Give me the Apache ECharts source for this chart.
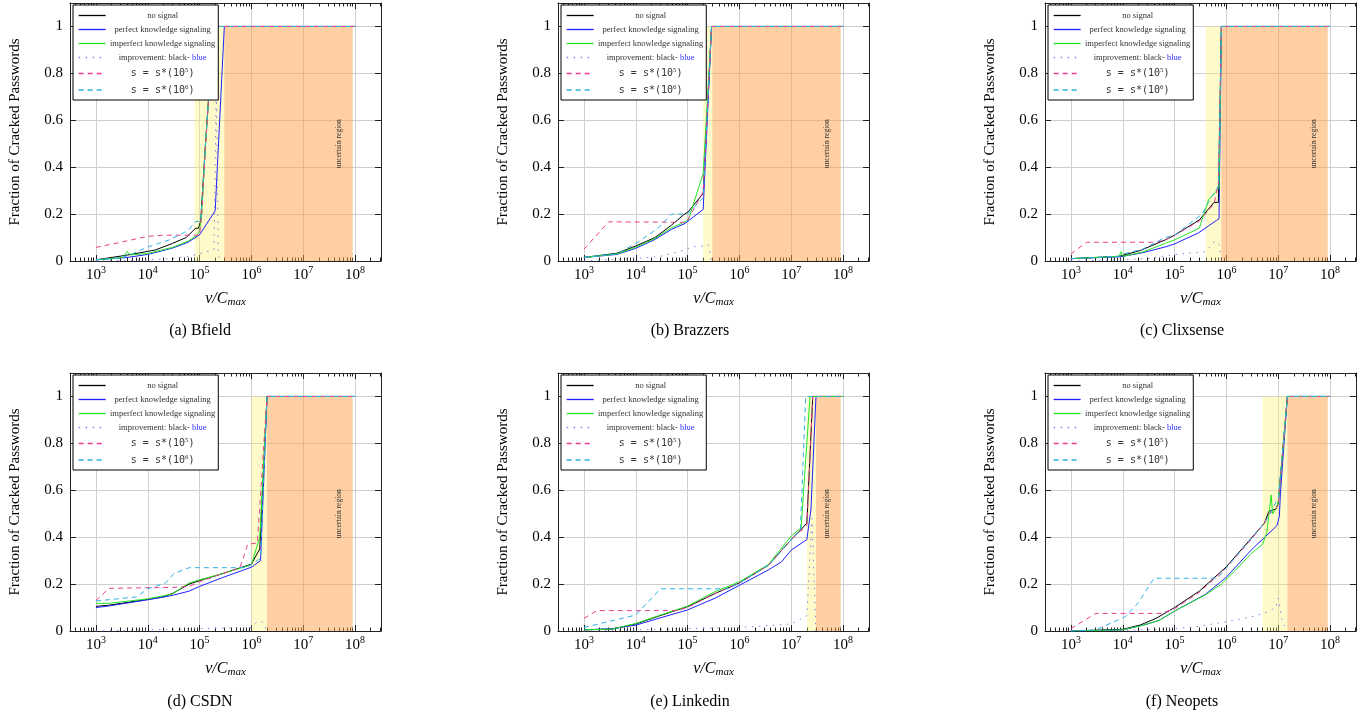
<!DOCTYPE html>
<html>
<head>
<meta charset="utf-8">
<script src="https://cdn.jsdelivr.net/npm/echarts@6/dist/echarts.min.js"></script>
<style>
html,body{margin:0;padding:0;background:#fff;}
#chart{width:1369px;height:717px;}
</style>
</head>
<body>
<div id="chart"></div>
<script>
// series names (legend order)
var seriesNames = ['no signal', 'perfect knowledge signaling', 'imperfect knowledge signaling',
  'improvement: black- blue', 's = s*(10^5)', 's = s*(10^6)'];
var captions = ['(a) Bfield', '(b) Brazzers', '(c) Clixsense', '(d) CSDN', '(e) Linkedin', '(f) Neopets'];
var xTickValues = [1e3, 1e4, 1e5, 1e6, 1e7, 1e8];
var yTickValues = [0, 0.2, 0.4, 0.6, 0.8, 1];

// (a) Bfield
var bfieldNo = [[1e3,0.005],[4e3,0.025],[1.4e4,0.047],[3e4,0.075],[5.5e4,0.1],[8.3e4,0.139],[9.5e4,0.14],[1.05e5,0.17],[1.3e5,0.5],[1.5e5,0.7],[1.9e5,1],[1e8,1]];
var bfieldPerfect = [[1e3,0.005],[4e3,0.015],[1e4,0.028],[3e4,0.055],[6e4,0.08],[1e5,0.112],[2e5,0.214],[3e5,1],[1e8,1]];
var bfieldImperfect = [[1e3,0.005],[3.3e3,0.015],[4e3,0.04],[4.7e3,0.026],[1e4,0.032],[3e4,0.058],[6e4,0.085],[9e4,0.11],[1e5,0.13],[1.1e5,0.2],[1.3e5,0.5],[1.5e5,0.7],[1.9e5,1],[1e8,1]];
var bfieldImprove = [[1e3,0],[1e4,0.005],[3e4,0.01],[6e4,0.02],[1e5,0.03],[1.9e5,0.05],[2.1e5,0.75],[2.3e5,0.02],[3e5,0]];
var bfieldS5 = [[1e3,0.058],[3e3,0.08],[1e4,0.105],[2e4,0.11],[1e5,0.11],[1.1e5,0.2],[1.3e5,0.48],[1.5e5,0.7],[1.9e5,1],[1e8,1]];
var bfieldS6 = [[1e3,0.005],[3e3,0.012],[5e3,0.03],[1e4,0.06],[2.6e4,0.09],[6e4,0.13],[8.2e4,0.167],[1.05e5,0.17],[1.3e5,0.5],[1.5e5,0.7],[1.9e5,1],[1e8,1]];
var bfieldRegions = [8e4, 3e5, 9e7];

// (b) Brazzers
var brazzersNo = [[1e3,0.015],[4.3e3,0.033],[1e4,0.064],[2.35e4,0.1],[4.9e4,0.153],[8.3e4,0.196],[1.03e5,0.21],[2e5,0.288],[2.9e5,1],[1e8,1]];
var brazzersPerfect = [[1e3,0.015],[4.3e3,0.028],[1e4,0.054],[2.35e4,0.092],[4.9e4,0.135],[8.9e4,0.16],[2e5,0.22],[2.9e5,1],[1e8,1]];
var brazzersImperfect = [[1e3,0.015],[4.3e3,0.03],[1e4,0.059],[2.35e4,0.096],[4.9e4,0.142],[7.6e4,0.16],[1.03e5,0.174],[2e5,0.373],[2.9e5,1],[1e8,1]];
var brazzersImprove = [[1e3,0],[3e3,0.005],[1e4,0.01],[3e4,0.02],[8.9e4,0.047],[1.2e5,0.06],[2e5,0.064],[2.5e5,0.07],[2.9e5,0]];
var brazzersS5 = [[1e3,0.05],[3e3,0.167],[9.5e4,0.165],[2e5,0.295],[2.9e5,1],[1e8,1]];
var brazzersS6 = [[1e3,0.015],[4.3e3,0.03],[1.1e4,0.08],[2.7e4,0.14],[4.9e4,0.2],[1e5,0.2],[2e5,0.27],[2.9e5,1],[1e8,1]];
var brazzersRegions = [2e5, 3e5, 9e7];

// (c) Clixsense
var clixsenseNo = [[1e3,0.01],[8.5e3,0.02],[2.2e4,0.045],[6.6e4,0.09],[1e5,0.11],[3e5,0.175],[5.8e5,0.25],[7e5,0.25],[8e5,1],[1e8,1]];
var clixsensePerfect = [[1e3,0.01],[9e3,0.018],[2.4e4,0.035],[6.6e4,0.06],[1e5,0.073],[2.9e5,0.12],[6.5e5,0.174],[7.2e5,0.18],[8e5,1],[1e8,1]];
var clixsenseImperfect = [[1e3,0.01],[8.5e3,0.02],[9.3e3,0.04],[1e4,0.02],[2.4e4,0.038],[6.6e4,0.075],[1e5,0.09],[3e5,0.14],[4.5e5,0.26],[6.5e5,0.3],[7.2e5,0.31],[8e5,1],[1e8,1]];
var clixsenseImprove = [[1e3,0],[1e4,0.005],[3e4,0.01],[1e5,0.028],[4e5,0.04],[6e5,0.085],[7.2e5,0.07],[8e5,0]];
var clixsenseS5 = [[1e3,0.03],[2e3,0.08],[4.5e4,0.08],[6.6e4,0.09],[1e5,0.11],[3e5,0.17],[5.8e5,0.245],[7e5,0.33],[8e5,1],[1e8,1]];
var clixsenseS6 = [[1e3,0.01],[8.5e3,0.02],[1e4,0.03],[2.4e4,0.05],[6.6e4,0.1],[1e5,0.11],[3.4e5,0.2],[4.5e5,0.25],[7e5,0.32],[8e5,1],[1e8,1]];
var clixsenseRegions = [4e5, 8e5, 9e7];

// (d) CSDN
var csdnNo = [[1e3,0.105],[1.8e3,0.11],[1e4,0.135],[2e4,0.145],[3e4,0.16],[6.3e4,0.2],[1e5,0.215],[2.8e5,0.245],[1e6,0.285],[1.45e6,0.35],[2e6,1],[1e8,1]];
var csdnPerfect = [[1e3,0.1],[1.8e3,0.107],[1e4,0.133],[3e4,0.152],[6.3e4,0.17],[1e5,0.19],[2.8e5,0.228],[1e6,0.272],[1.5e6,0.3],[2e6,1],[1e8,1]];
var csdnImperfect = [[1e3,0.118],[1.8e3,0.118],[1e4,0.137],[3e4,0.158],[6.3e4,0.205],[1e5,0.218],[2.8e5,0.245],[1e6,0.282],[1.45e6,0.4],[2e6,1],[1e8,1]];
var csdnImprove = [[1e3,0],[1e5,0.01],[1e6,0.015],[1.3e6,0.04],[1.6e6,0.04],[2e6,0]];
var csdnS5 = [[1e3,0.13],[1.8e3,0.182],[3e4,0.186],[6.3e4,0.19],[1e5,0.21],[2.8e5,0.245],[6e5,0.27],[8.5e5,0.37],[1.3e6,0.375],[2e6,1],[1e8,1]];
var csdnS6 = [[1e3,0.128],[6e3,0.145],[1e4,0.18],[2.2e4,0.205],[3.2e4,0.245],[6.3e4,0.27],[8e5,0.27],[1.5e6,0.31],[2e6,1],[1e8,1]];
var csdnRegions = [1e6, 2e6, 9e7];

// (e) Linkedin
var linkedinNo = [[1e3,0.005],[3.5e3,0.008],[1e4,0.03],[3.2e4,0.068],[1e5,0.104],[3.4e5,0.16],[1e6,0.205],[3.6e6,0.28],[1e7,0.39],[1.5e7,0.43],[2e7,0.46],[2.6e7,1],[1e8,1]];
var linkedinPerfect = [[1e3,0.005],[3.5e3,0.01],[1e4,0.025],[3.2e4,0.058],[1e5,0.09],[3.4e5,0.14],[1e6,0.195],[3.6e6,0.26],[6.5e6,0.295],[1e7,0.345],[2e7,0.39],[2.4e7,0.52],[3e7,1],[1e8,1]];
var linkedinImperfect = [[1e3,0.005],[3.5e3,0.008],[1e4,0.032],[3.2e4,0.07],[1e5,0.106],[3.4e5,0.168],[1e6,0.21],[3.6e6,0.283],[1e7,0.405],[1.55e7,0.44],[2.3e7,1],[1e8,1]];
var linkedinImprove = [[1e3,0],[1e4,0.005],[1e5,0.01],[1e6,0.015],[1e7,0.03],[2e7,0.065],[2.5e7,0.48],[3e7,0]];
var linkedinS5 = [[1e3,0.054],[1.8e3,0.087],[6.2e4,0.087],[1e5,0.1],[3.4e5,0.16],[1e6,0.205],[3.6e6,0.28],[1e7,0.39],[2e7,0.45],[2.6e7,1],[1e8,1]];
var linkedinS6 = [[1e3,0.015],[1e4,0.068],[3e4,0.18],[6e5,0.18],[1e6,0.205],[3.6e6,0.28],[1e7,0.39],[1.5e7,0.43],[1.9e7,1],[1e8,1]];
var linkedinRegions = [2e7, 3e7, 9e7];

// (f) Neopets
var neopetsNo = [[1e3,0],[1e4,0.007],[2.2e4,0.026],[4.4e4,0.054],[1e5,0.1],[3e5,0.17],[1e6,0.274],[3e6,0.395],[5.4e6,0.46],[6.6e6,0.51],[9e6,0.52],[1e7,0.545],[1.5e7,1],[1e8,1]];
var neopetsPerfect = [[1e3,0],[1e4,0.005],[2.5e4,0.025],[5e4,0.045],[1e5,0.085],[4e5,0.157],[1e6,0.23],[3e6,0.345],[5.5e6,0.4],[9.5e6,0.45],[1.05e7,0.49],[1.1e7,0.585],[1.5e7,1],[1e8,1]];
var neopetsImperfect = [[1e3,0],[1e4,0.005],[2.5e4,0.025],[5e4,0.045],[1e5,0.085],[4e5,0.155],[8e5,0.2],[1.5e6,0.26],[3e6,0.33],[5e6,0.37],[6e6,0.42],[7.3e6,0.58],[7.8e6,0.5],[9e6,0.52],[1e7,0.55],[1.5e7,1],[1e8,1]];
var neopetsImprove = [[1e3,0],[1e4,0.002],[1e5,0.01],[3e5,0.02],[1e6,0.04],[3e6,0.06],[6e6,0.08],[9e6,0.1],[1e7,0.14],[1.2e7,0.04],[1.5e7,0]];
var neopetsS5 = [[1e3,0.01],[3e3,0.075],[5.5e4,0.075],[1e5,0.095],[3e5,0.165],[1e6,0.27],[3e6,0.39],[5.4e6,0.46],[6.6e6,0.5],[9e6,0.52],[1e7,0.54],[1.5e7,1],[1e8,1]];
var neopetsS6 = [[1e3,0],[3e3,0.005],[1.1e4,0.06],[2e4,0.12],[4e4,0.225],[6.7e5,0.225],[1e6,0.27],[3e6,0.395],[5.4e6,0.46],[7e6,0.5],[9e6,0.55],[1e7,0.56],[1.5e7,1],[1e8,1]];
var neopetsRegions = [5e6, 1.5e7, 9e7];

var panelData = [
  [bfieldNo, bfieldPerfect, bfieldImperfect, bfieldImprove, bfieldS5, bfieldS6],
  [brazzersNo, brazzersPerfect, brazzersImperfect, brazzersImprove, brazzersS5, brazzersS6],
  [clixsenseNo, clixsensePerfect, clixsenseImperfect, clixsenseImprove, clixsenseS5, clixsenseS6],
  [csdnNo, csdnPerfect, csdnImperfect, csdnImprove, csdnS5, csdnS6],
  [linkedinNo, linkedinPerfect, linkedinImperfect, linkedinImprove, linkedinS5, linkedinS6],
  [neopetsNo, neopetsPerfect, neopetsImperfect, neopetsImprove, neopetsS5, neopetsS6]
];
var panelRegions = [bfieldRegions, brazzersRegions, clixsenseRegions, csdnRegions, linkedinRegions, neopetsRegions];
var uncertainAt = [5e7, 0.5];

// styles / layout
var colors = ['#000000', '#2020ff', '#22e622', '#8484dc', '#ee3d8f', '#2fb2e6'];
var lineTypes = ['solid', 'solid', 'solid', [1.5, 5.5], [5, 4], [5, 4]];
var serif = 'Liberation Serif';
var frameColor = '#222';
var gridColor = '#cfcfcf';
var colLeft = [70, 558, 1045];
var rowTop = [3, 373];
var plotW = 311, plotH = 258;
var captionX = [200, 690, 1182];
var captionY = [331, 702];
var xMin = Math.pow(10, 2.5), xMax = Math.pow(10, 8.5);

var minorTicks = [];
for (var e = 2; e <= 8; e++) {
  for (var k = 2; k <= 9; k++) {
    var mv = k * Math.pow(10, e);
    if (mv > xMin && mv < xMax) minorTicks.push(mv);
  }
}

function legendText(name) {
  if (name === seriesNames[3]) return '{t|improvement: black- }{bl|blue}';
  if (name === seriesNames[4]) return '{m|s = s*(10}{sup|5}{m|)}';
  if (name === seriesNames[5]) return '{m|s = s*(10}{sup|6}{m|)}';
  return '{t|' + name + '}';
}

var grids = [], xAxes = [], yAxes = [], series = [], legends = [], graphics = [];

for (var p = 0; p < 6; p++) {
  var col = p % 3, row = Math.floor(p / 3);
  grids.push({left: colLeft[col], top: rowTop[row], width: plotW, height: plotH, outerBoundsMode: 'none'});

  var baseX = {gridIndex: p, type: 'log', min: xMin, max: xMax, logBase: 10};
  // bottom, major ticks + labels
  xAxes.push(Object.assign({}, baseX, {
    position: 'bottom',
    axisLine: {show: true, onZero: false, lineStyle: {color: frameColor, width: 1}},
    axisTick: {show: true, inside: true, length: 6, customValues: xTickValues, lineStyle: {color: frameColor}},
    axisLabel: {
      show: true, margin: 4, customValues: xTickValues,
      formatter: function (v) { return '{b|10}{s|' + Math.round(Math.log10(v)) + '}'; },
      rich: {
        b: {fontSize: 15, fontFamily: serif, color: '#000'},
        s: {fontSize: 10, fontFamily: serif, color: '#000', padding: [0, 0, 10, 0]}
      }
    },
    splitLine: {show: true, lineStyle: {color: gridColor, width: 1}},
    minorTick: {show: false},
    name: '{i|v/C}{u|max}',
    nameLocation: 'middle',
    nameGap: 28,
    nameTextStyle: {
      rich: {
        i: {fontSize: 16, fontFamily: serif, fontStyle: 'italic', color: '#000'},
        u: {fontSize: 11, fontFamily: serif, fontStyle: 'italic', color: '#000', padding: [8, 0, 0, 0]}
      }
    }
  }));
  // bottom minor ticks
  xAxes.push(Object.assign({}, baseX, {
    position: 'bottom',
    axisLine: {show: false, onZero: false},
    axisTick: {show: true, inside: true, length: 3.5, customValues: minorTicks, lineStyle: {color: frameColor}},
    axisLabel: {show: false},
    splitLine: {show: false}
  }));
  // top frame + major ticks
  xAxes.push(Object.assign({}, baseX, {
    position: 'top',
    axisLine: {show: true, onZero: false, lineStyle: {color: frameColor, width: 1}},
    axisTick: {show: true, inside: true, length: 6, customValues: xTickValues, lineStyle: {color: frameColor}},
    axisLabel: {show: false},
    splitLine: {show: false}
  }));
  // top minor ticks
  xAxes.push(Object.assign({}, baseX, {
    position: 'top',
    axisLine: {show: false, onZero: false},
    axisTick: {show: true, inside: true, length: 3.5, customValues: minorTicks, lineStyle: {color: frameColor}},
    axisLabel: {show: false},
    splitLine: {show: false}
  }));

  yAxes.push({
    gridIndex: p, type: 'value', min: 0, max: 1.1, interval: 0.2, position: 'left',
    axisLine: {show: true, onZero: false, lineStyle: {color: frameColor, width: 1}},
    axisTick: {show: true, inside: true, length: 6, customValues: yTickValues, lineStyle: {color: frameColor}},
    axisLabel: {show: true, margin: 7, customValues: yTickValues, fontSize: 15, fontFamily: serif, color: '#000'},
    splitLine: {show: true, lineStyle: {color: gridColor, width: 1}},
    name: 'Fraction of Cracked Passwords',
    nameLocation: 'middle',
    nameGap: 47,
    nameTextStyle: {fontSize: 15, fontFamily: serif, color: '#000'}
  });
  yAxes.push({
    gridIndex: p, type: 'value', min: 0, max: 1.1, interval: 0.2, position: 'right',
    axisLine: {show: true, onZero: false, lineStyle: {color: frameColor, width: 1}},
    axisTick: {show: true, inside: true, length: 6, customValues: yTickValues, lineStyle: {color: frameColor}},
    axisLabel: {show: false},
    splitLine: {show: false}
  });

  var reg = panelRegions[p];
  for (var s = 0; s < 6; s++) {
    var ser = {
      type: 'line',
      name: seriesNames[s],
      xAxisIndex: 4 * p,
      yAxisIndex: 2 * p,
      data: panelData[p][s],
      symbol: 'none',
      showSymbol: false,
      color: colors[s],
      lineStyle: {color: colors[s], width: 1, type: lineTypes[s]},
      emphasis: {disabled: true},
      silent: true
    };
    if (s === 0) {
      ser.markArea = {
        silent: true,
        data: [
          [{xAxis: reg[0], yAxis: 0, itemStyle: {color: 'rgba(255,240,100,0.35)'}}, {xAxis: reg[1], yAxis: 1}],
          [{xAxis: reg[1], yAxis: 0, itemStyle: {color: 'rgba(251,160,70,0.5)'}}, {xAxis: reg[2], yAxis: 1}]
        ]
      };
      ser.markPoint = {
        silent: true,
        symbol: 'circle',
        symbolSize: 1,
        itemStyle: {color: 'rgba(0,0,0,0)'},
        label: {show: true, position: 'inside', formatter: 'uncertain region', rotate: 90,
          fontSize: 7.5, fontFamily: serif, color: '#333'},
        data: [{coord: uncertainAt, value: 0}]
      };
    }
    series.push(ser);
  }

  legends.push({
    left: colLeft[col] + 3,
    top: rowTop[row] + 2,
    orient: 'vertical',
    data: seriesNames,
    selectedMode: false,
    padding: [6, 3, 5, 5],
    itemWidth: 27,
    itemHeight: 10,
    itemGap: 5,
    borderColor: '#000',
    borderWidth: 1,
    borderRadius: 0,
    backgroundColor: '#fff',
    itemStyle: {opacity: 0},
    lineStyle: {width: 1.3},
    formatter: legendText,
    textStyle: {
      width: 104,
      fontSize: 8.5,
      fontFamily: serif,
      color: '#333',
      rich: {
        t: {fontSize: 8.5, fontFamily: serif, color: '#333', align: 'center'},
        bl: {fontSize: 8.5, fontFamily: serif, color: '#3030ff', align: 'center'},
        m: {fontSize: 10, fontFamily: 'DejaVu Sans Mono', color: '#333', align: 'center'},
        sup: {fontSize: 7, fontFamily: serif, color: '#333', align: 'center', padding: [0, 0, 6, 0]}
      }
    }
  });

  graphics.push({
    type: 'text',
    x: captionX[col],
    y: captionY[row],
    style: {text: captions[p], align: 'center', verticalAlign: 'middle', fontSize: 16, fontFamily: serif, fill: '#000'}
  });
}

var chart = echarts.init(document.getElementById('chart'));
chart.setOption({
  animation: false,
  backgroundColor: '#fff',
  grid: grids,
  xAxis: xAxes,
  yAxis: yAxes,
  legend: legends,
  series: series,
  graphic: graphics
});
</script>
</body>
</html>
